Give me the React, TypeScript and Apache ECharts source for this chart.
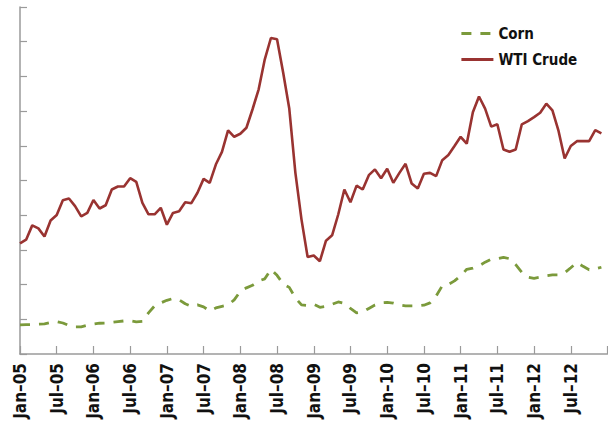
import React, { useEffect, useRef } from "react";
import * as echarts from "echarts";

const monthNames = ["Jan", "Feb", "Mar", "Apr", "May", "Jun", "Jul", "Aug", "Sep", "Oct", "Nov", "Dec"];
const years = ["05", "06", "07", "08", "09", "10", "11", "12", "13"];

// Jan-05 .. Jan-13 (monthly)
const categories: string[] = [];
years.forEach((y) => monthNames.forEach((m) => categories.push(`${m}–${y}`)));
categories.length = 97;

// WTI crude (chart units)
const crude = [
  47.8, 49.4, 55.6, 54.3, 50.8, 57.7, 60.1, 66.5, 67.2, 63.9, 59.5, 61.0,
  66.6, 62.9, 64.3, 71.1, 72.4, 72.4, 76.0, 74.4, 65.3, 60.4, 60.4, 63.2,
  55.9, 61.0, 61.7, 65.6, 65.2, 69.7, 75.7, 74.0, 81.9, 87.4, 96.7, 93.9,
  95.2, 97.8, 105.8, 114.4, 127.4, 136.6, 136.1, 121.7, 106.1, 78.3, 58.1, 41.9,
  42.6, 40.1, 49.0, 51.3, 60.3, 71.1, 65.6, 72.8, 71.1, 77.3, 79.8, 76.0,
  80.1, 74.0, 78.3, 82.2, 73.7, 71.5, 77.9, 78.3, 76.9, 83.8, 86.0, 89.9,
  93.9, 90.9, 104.5, 111.3, 106.1, 98.3, 99.3, 88.4, 87.4, 88.4, 99.3, 100.7,
  102.4, 104.3, 108.2, 105.3, 96.4, 84.5, 89.9, 92.0, 92.0, 92.0, 96.8, 95.4,
];

// Corn (chart units)
const corn = [
  12.6, 12.7, 12.7, 12.9, 13.0, 13.6, 14.0, 13.4, 12.3, 11.7, 11.7, 12.4,
  12.9, 13.3, 13.4, 13.7, 14.0, 14.3, 14.4, 13.9, 14.1, 17.8, 20.8, 22.1,
  23.2, 24.0, 23.4, 21.7, 20.6, 21.2, 20.4, 18.6, 19.9, 20.6, 21.2, 23.4,
  27.1, 28.6, 29.7, 31.6, 32.5, 36.6, 34.0, 30.3, 28.8, 24.3, 21.2, 21.0,
  21.5, 20.2, 20.6, 21.5, 22.5, 21.9, 19.7, 17.8, 18.2, 19.7, 21.2, 22.1,
  22.3, 22.0, 21.2, 20.8, 20.8, 20.8, 21.1, 22.1, 25.1, 29.5, 30.1, 31.6,
  33.8, 36.6, 37.1, 38.1, 39.7, 41.0, 41.2, 41.8, 41.2, 38.6, 35.3, 33.2,
  32.7, 33.2, 33.8, 34.2, 34.2, 35.1, 37.3, 39.6, 37.9, 36.4, 36.8, 37.5,
];

const yMin = 0;
const yMax = 150;
const yInterval = 15;

const FONT = "'DejaVu Sans Condensed', 'DejaVu Sans', sans-serif";

export default function App() {
  const ref = useRef<HTMLDivElement>(null);
  useEffect(() => {
    if (!ref.current) return;
    const chart = echarts.init(ref.current, undefined, { renderer: "svg" });
    chart.setOption({
      animation: false,
      backgroundColor: "#ffffff",
      grid: { left: 20, right: 0.5, top: 7, bottom: 80, containLabel: false },
      legend: {
        data: ["Corn", "WTI Crude"],
        orient: "vertical",
        left: 455,
        top: 21,
        itemWidth: 32,
        itemHeight: 14,
        itemGap: 11,
        itemStyle: { opacity: 0 },
        lineStyle: { width: 2.8 },
        textStyle: { fontFamily: FONT, fontSize: 15, fontWeight: "bold", color: "#111" },
      },
      xAxis: {
        type: "category",
        data: categories,
        boundaryGap: false,
        axisLine: { lineStyle: { color: "#9a9a9a", width: 1.5 } },
        axisTick: {
          inside: true,
          length: 8,
          interval: (i: number) => i % 6 === 0,
          lineStyle: { color: "#9a9a9a", width: 1.2 },
        },
        axisLabel: {
          interval: (i: number) => i % 6 === 0 && i <= 90,
          rotate: 90,
          margin: 9,
          fontFamily: FONT,
          fontSize: 17,
          fontWeight: "bold",
          color: "#111",
        },
        splitLine: { show: false },
      },
      yAxis: {
        type: "value",
        min: yMin,
        max: yMax,
        interval: yInterval,
        axisLine: { show: true, lineStyle: { color: "#9a9a9a", width: 1.5 } },
        axisTick: { show: true, inside: true, length: 7, lineStyle: { color: "#9a9a9a", width: 1.2 } },
        axisLabel: { show: false },
        splitLine: { show: false },
      },
      series: [
        {
          name: "Corn",
          type: "line",
          data: corn,
          symbol: "none",
          lineStyle: { color: "#7b9a3b", width: 2.8, type: [10, 9] },
          itemStyle: { color: "#7b9a3b" },
        },
        {
          name: "WTI Crude",
          type: "line",
          data: crude,
          symbol: "none",
          lineStyle: { color: "#993331", width: 2.6 },
          itemStyle: { color: "#993331" },
        },
      ],
    });
    return () => chart.dispose();
  }, []);
  return (
    <div
      ref={ref}
      style={{ position: "fixed", left: 0, top: 0, width: 608, height: 434, background: "#fff" }}
    />
  );
}
